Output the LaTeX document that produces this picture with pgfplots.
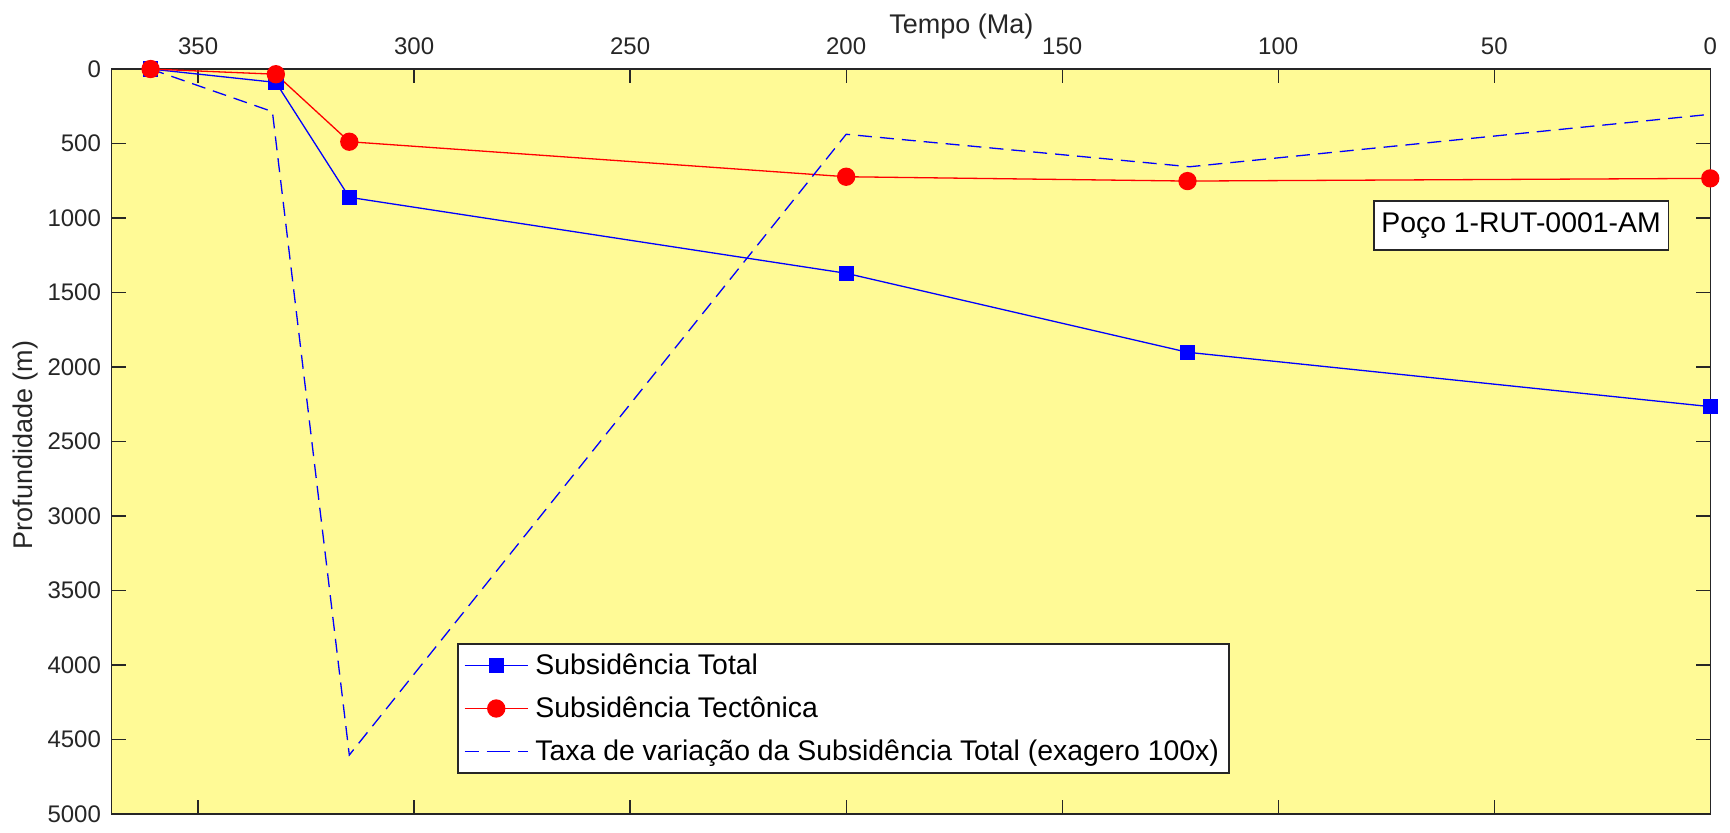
\documentclass[border=0pt]{standalone}
\usepackage{fontspec}
\setmainfont{Liberation Sans}
\usepackage{pgfplots}
\pgfplotsset{compat=1.18}
\definecolor{bgy}{RGB}{255,250,150}
\definecolor{axc}{RGB}{38,38,38}
\begin{document}
\begin{tikzpicture}
\begin{axis}[
  name=ax, at={(0,0)}, anchor=south west,
  scale only axis, width=799.3pt, height=372.5pt,
  x dir=reverse, y dir=reverse,
  xmin=0, xmax=370, ymin=0, ymax=5000,
  xtick={0,50,...,350}, ytick={0,500,...,5000},
  xticklabel pos=upper,
  tick align=inside, major tick length=7pt,
  clip=false,
  axis background/.style={fill=bgy},
  axis line style={draw=axc, line width=0.65pt},
  every tick/.style={draw=axc, line width=0.65pt},
  ticklabel style={font=\fontsize{12}{14}\selectfont, text=axc},
  /pgf/number format/assume math mode=true,
  /pgf/number format/1000 sep={},
  yticklabel style={xshift=-1.85pt},
  xticklabel style={yshift=3.8pt},
  xlabel={Tempo (Ma)}, ylabel={Profundidade (m)},
  xlabel style={at={([yshift=18pt]axis description cs:0.5315,1)}, anchor=base, font=\fontsize{13.5}{16}\selectfont, text=axc},
  ylabel style={at={([xshift=-43.2pt]axis description cs:0,0.4953)}, anchor=center, font=\fontsize{13.5}{16}\selectfont, text=axc},
  legend style={at={(0.2163,0.2291)}, anchor=north west, draw=axc, line width=0.65pt, fill=white,
    font=\fontsize{14.2}{17}\selectfont, inner xsep=3pt, inner ysep=3pt,
    row sep=5.5pt, column sep=1.5pt},
  legend cell align=left,
  legend image code/.code={%
    \draw[#1, mark=none] (0pt,0pt) -- (15.75pt,0pt);
    \draw[#1, mark=none] (15.75pt,0pt) -- (31.5pt,0pt);
    \draw[#1, solid, draw=none] plot coordinates {(15.75pt,0pt)};},
]
\addplot[blue, line width=0.65pt, mark=square*, mark size=3.5pt, mark options={solid, fill=blue, draw=blue}]
  coordinates {(361,0) (332,90) (315,861) (200,1371) (121,1901) (0,2266)};
\addplot[red, line width=0.65pt, mark=*, mark size=4.25pt, mark options={solid, fill=red, draw=red}]
  coordinates {(361,0) (332,35) (315,488) (200,723) (121,752) (0,734)};
\addplot[blue, line width=0.65pt, dash pattern=on 7pt off 4pt]
  coordinates {(361,0) (332.8,286) (315,4604) (200,438) (120.5,656) (0,304)};
\legend{Subsidência Total, Subsidência Tectônica, Taxa de variação da Subsidência Total (exagero 100x)}
\node[draw=axc, fill=white, line width=0.65pt, font=\fontsize{14.2}{17}\selectfont, inner xsep=3.75pt, inner ysep=0pt, minimum height=24.5pt, text height=0.716em, text depth=0pt] at (axis cs:43.8,1050) {Poço 1-RUT-0001-AM};
\end{axis}
\pgfresetboundingbox
\useasboundingbox (-55.85pt,-9pt) rectangle (809.15pt,407pt);
\end{tikzpicture}
\end{document}
